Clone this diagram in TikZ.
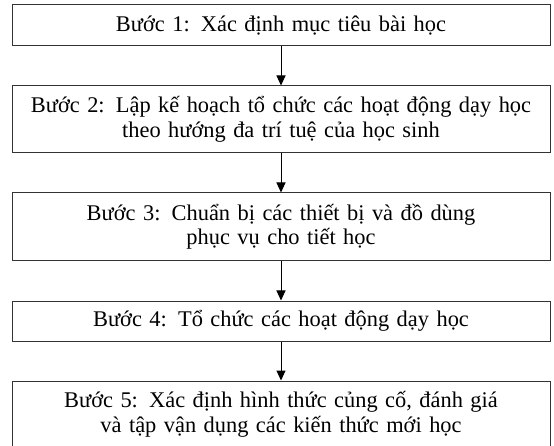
\documentclass[tikz,border=0pt]{standalone}
\usepackage{fontspec}
\setmainfont{Liberation Serif}
\usetikzlibrary{arrows.meta}
\begin{document}
\begin{tikzpicture}[x=1pt,y=-1pt,
  stepbox/.style={draw=black!80, line width=1pt, rectangle, minimum width=538pt,
    inner sep=0pt, align=center, font=\fontsize{22.4}{24.5}\selectfont, text width=536pt},
  flow/.style={draw=black, line width=1pt, -{Triangle[length=10pt,width=9pt]}}]
\useasboundingbox (0,0) rectangle (554,446);
\node[stepbox, minimum height=40.5pt] (b1) at (281,25.25) {Bước 1: Xác định mục tiêu bài học};
\node[stepbox, minimum height=67pt] (b2) at (281,119.5) {Bước 2: Lập kế hoạch tổ chức các hoạt động dạy học\\theo hướng đa trí tuệ của học sinh};
\node[stepbox, minimum height=68pt] (b3) at (281,227) {Bước 3: Chuẩn bị các thiết bị và đồ dùng\\phục vụ cho tiết học};
\node[stepbox, minimum height=40pt] (b4) at (281,321) {Bước 4: Tổ chức các hoạt động dạy học};
\node[stepbox, minimum height=67pt] (b5) at (281,414.5) {Bước 5: Xác định hình thức củng cố, đánh giá\\và tập vận dụng các kiến thức mới học};
\draw[flow] (b1) -- (b2);
\draw[flow] (b2) -- (b3);
\draw[flow] (b3) -- (b4);
\draw[flow] (b4) -- (b5);
\end{tikzpicture}
\end{document}
